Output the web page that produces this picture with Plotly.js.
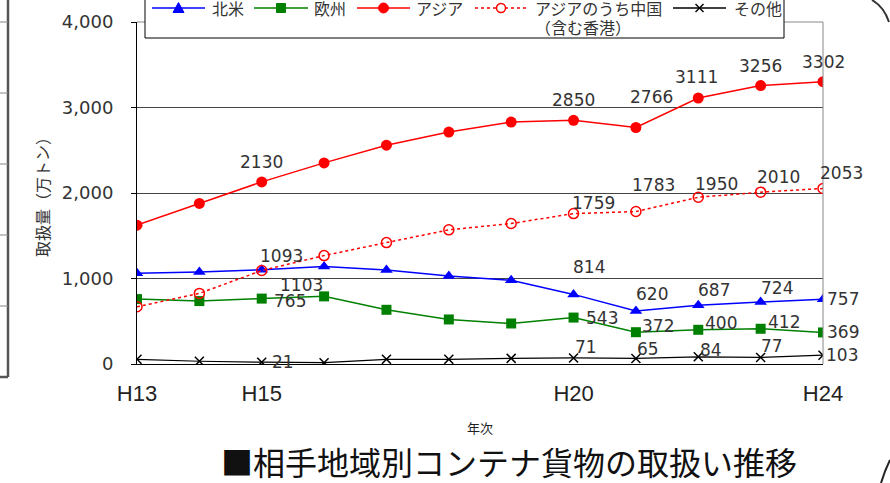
<!DOCTYPE html>
<html>
<head>
<meta charset="utf-8">
<script src="https://cdn.plot.ly/plotly-3.0.1.min.js"></script>
<style>html,body{margin:0;padding:0;background:#fff;}#chart{width:890px;height:483px;}</style>
</head>
<body>
<div id="chart"></div>
<script>
// ---- data ----
const years = ['H13','H14','H15','H16','H17','H18','H19','H20','H21','H22','H23','H24'];
const shownYears = ['H13','H15','H20','H24'];
const northAmerica = [1060, 1075, 1103, 1140, 1100, 1030, 980, 814, 620, 687, 724, 757];
const europe       = [759, 736, 765, 791, 634, 521, 474, 543, 372, 400, 412, 369];
const asia         = [1624, 1878, 2130, 2352, 2559, 2713, 2830, 2850, 2766, 3111, 3256, 3302];
const chinaHK      = [669, 826, 1093, 1268, 1420, 1569, 1643, 1759, 1783, 1950, 2010, 2053];
const others       = [55, 32, 21, 15, 55, 55, 66, 71, 65, 84, 77, 103];
const seriesNames  = ['北米', '欧州', 'アジア', 'アジアのうち中国<br>（含む香港）', 'その他'];
const labeledYears = ['H15','H20','H21','H22','H23','H24'];
const yTicks = [0, 1000, 2000, 3000, 4000];

// ---- label offsets (px, dx right, dy down) ----
const labelOffsets = [
  [[40,15],[15,-27],[16,-17],[16,-15],[16,-14],[20,0]],   // 北米
  [[28,2],[28,0],[22,-6],[23,-7],[23,-7],[20,0]],          // 欧州
  [[0,-20],[0,-20],[16,-31],[-2,-21],[0,-20],[0,-20]],     // アジア
  [[20,-15],[20,-11],[18,-27],[18,-13],[18,-15],[18,-15]], // 中国
  [[21,0],[12,-11],[12,-9],[13,-7],[11,-11],[19,0]]        // その他
];

const seriesData = [northAmerica, europe, asia, chinaHK, others];
const colors = ['#0000ff', '#008000', '#ff0000', '#ff0000', '#000000'];
const styles = [
  {line:{color:colors[0], width:1.5}, marker:{symbol:'triangle-up', size:11, color:colors[0]}},
  {line:{color:colors[1], width:1.5}, marker:{symbol:'square', size:10, color:colors[1]}},
  {line:{color:colors[2], width:1.5}, marker:{symbol:'circle', size:11, color:colors[2]}},
  {line:{color:colors[3], width:1.5, dash:'dot'}, marker:{symbol:'circle-open', size:10, color:colors[3], line:{width:1.5, color:colors[3]}}},
  {line:{color:colors[4], width:1.2}, marker:{symbol:'x-thin', size:9, color:colors[4], line:{width:1.5, color:colors[4]}}}
];

const traces = seriesData.map((vals, i) => Object.assign({
  type:'scatter', mode:'lines+markers', x: years, y: vals, name: seriesNames[i], showlegend:false
}, styles[i]));

const annotations = [];
seriesData.forEach((vals, i) => {
  labeledYears.forEach((yr, j) => {
    const idx = years.indexOf(yr);
    annotations.push({
      x: yr, y: vals[idx], xref:'x', yref:'y', text: String(vals[idx]), showarrow:false,
      xshift: labelOffsets[i][j][0], yshift: -labelOffsets[i][j][1],
      font:{family:'DejaVu Sans', size:17, color:'#333'}
    });
  });
});

// pixel -> paper helpers for decoration / legend
const L = 137, R = 823, T = 22, B = 364;
const X = p => (p - L) / (R - L);
const Y = p => (B - p) / (B - T);
const pline = (x0, y0, x1, y1, color, width, dash) => ({type:'line', xref:'paper', yref:'paper',
  x0:X(x0), x1:X(x1), y0:Y(y0), y1:Y(y1), line:{color, width, dash: dash || 'solid'}, layer:'above'});

const shapes = [
  pline(L, T, R, T, '#888', 1),
  pline(R, T, R, B, '#888', 1),
  // left screenshot frame artifact
  pline(8, 0, 8, 377, '#555', 2.5),
  pline(0, 377, 8, 377, '#555', 2.5),
].concat([22, 93, 164, 235, 306].map(py => pline(0, py, 8, py, '#888', 1))).concat([
  {type:'path', xref:'paper', yref:'paper', layer:'above',
   path:`M ${X(872)} ${Y(0)} Q ${X(884)} ${Y(7)} ${X(889)} ${Y(22)}`, line:{color:'#333', width:2}},
  {type:'path', xref:'paper', yref:'paper', layer:'above',
   path:`M ${X(881)} ${Y(483)} Q ${X(885)} ${Y(470)} ${X(890)} ${Y(460)}`, line:{color:'#222', width:2}},
  // legend box
  {type:'rect', xref:'paper', yref:'paper', layer:'above', x0:X(145), x1:X(784), y0:Y(38), y1:Y(-5),
   fillcolor:'#fff', line:{color:'#000', width:1}}
]);

// ---- manual legend (positions in px) ----
const legLineX = [[152,205],[254,308],[357,410],[475,527],[673,726]];
const legTextX = [210, 312, 414, 533, 732];
const legY = 8;
legLineX.forEach((lx, i) => {
  shapes.push(pline(lx[0], legY, lx[1], legY, colors[i], 1.5, i === 3 ? 'dot' : 'solid'));
  const cx = (lx[0] + lx[1]) / 2;
  if (i === 0) {
    shapes.push({type:'path', xref:'paper', yref:'paper', layer:'above', fillcolor:colors[0],
      path:`M ${X(cx-5.5)} ${Y(legY+4.5)} L ${X(cx+5.5)} ${Y(legY+4.5)} L ${X(cx)} ${Y(legY-5.5)} Z`, line:{color:colors[0], width:1}});
  } else if (i === 1) {
    shapes.push({type:'rect', xref:'paper', yref:'paper', layer:'above', fillcolor:colors[1],
      x0:X(cx-4.5), x1:X(cx+4.5), y0:Y(legY-4.5), y1:Y(legY+4.5), line:{color:colors[1], width:1}});
  } else if (i === 2) {
    shapes.push({type:'circle', xref:'paper', yref:'paper', layer:'above', fillcolor:colors[2],
      x0:X(cx-5), x1:X(cx+5), y0:Y(legY-5), y1:Y(legY+5), line:{color:colors[2], width:1}});
  } else if (i === 3) {
    shapes.push({type:'circle', xref:'paper', yref:'paper', layer:'above', fillcolor:'#fff',
      x0:X(cx-4.5), x1:X(cx+4.5), y0:Y(legY-4.5), y1:Y(legY+4.5), line:{color:colors[3], width:1.5}});
  } else {
    shapes.push(pline(cx-4, legY-4, cx+4, legY+4, colors[4], 1.5));
    shapes.push(pline(cx-4, legY+4, cx+4, legY-4, colors[4], 1.5));
  }
  const lines = seriesNames[i].split('<br>');
  lines.forEach((t, k) => {
    annotations.push({xref:'paper', yref:'paper', x:X(legTextX[i]), y:Y(legY + k*19), xanchor:'left', yanchor:'middle',
      text:t, showarrow:false, font:{family:'Noto Sans CJK JP', size:16, color:'#333'}});
  });
});

const layout = {
  width: 890, height: 483,
  margin: {l: L, r: 890 - R, t: T, b: 483 - B, autoexpand: false},
  paper_bgcolor:'#fff', plot_bgcolor:'#fff',
  title: {text:'■相手地域別コンテナ貨物の取扱い推移', x: 509/890, xanchor:'center', y: 1 - 464/483, yanchor:'middle',
          font:{family:'Noto Sans CJK JP', size:32, color:'#111'}},
  xaxis: {
    type:'category', categoryorder:'array', categoryarray: years, range:[0, years.length - 1],
    tickmode:'array', tickvals: shownYears, ticktext: shownYears,
    ticks:'', showline:true, linecolor:'#000', linewidth:1, showgrid:false, zeroline:false,
    tickfont:{family:'Liberation Sans', size:22, color:'#222'}, ticklabelstandoff: 10,
    title:{text:'年次', font:{family:'Noto Sans CJK JP', size:13, color:'#222'}, standoff: 18}
  },
  yaxis: {
    range:[0, 4000], tickmode:'array', tickvals: yTicks, tickformat:',d',
    ticks:'outside', ticklen:5, tickcolor:'#000', showline:true, linecolor:'#000', linewidth:1,
    showgrid:true, gridcolor:'#444', gridwidth:1, zeroline:false,
    tickfont:{family:'DejaVu Sans', size:18, color:'#333'}, ticklabelstandoff: 14,
    title:{text:'取扱量（万トン）', font:{family:'Noto Sans CJK JP', size:16, color:'#333'}, standoff: 8}
  },
  showlegend: false,
  annotations: annotations,
  shapes: shapes
};

Plotly.newPlot('chart', traces, layout, {staticPlot:true, displayModeBar:false});
</script>
</body>
</html>
